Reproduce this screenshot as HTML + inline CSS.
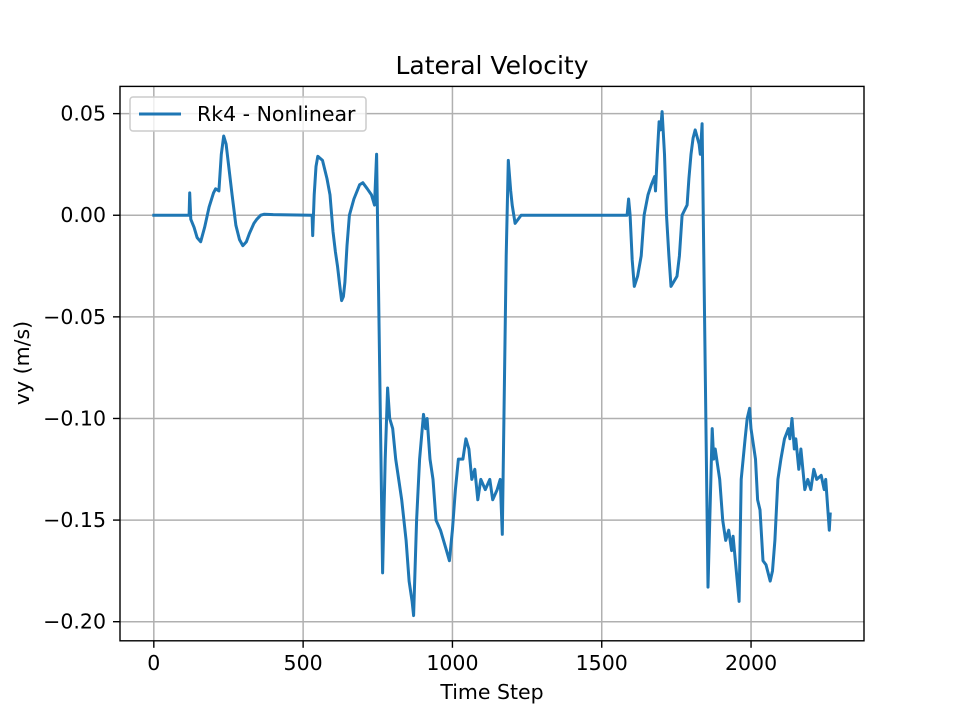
<!DOCTYPE html>
<html><head><meta charset="utf-8"><style>
body{margin:0;background:#fff}
svg text{font-family:"DejaVu Sans","Liberation Sans",sans-serif;fill:#000}
</style></head><body>
<svg id="chart" width="960" height="720" xmlns="http://www.w3.org/2000/svg">
<rect width="960" height="720" fill="#fff"/>
<g id="grid"></g>
<path id="line" fill="none" stroke="#1f77b4" stroke-width="3" stroke-linejoin="round" stroke-linecap="square"/>
<rect x="120" y="86.4" width="744" height="554.4" fill="none" stroke="#000" stroke-width="1.4"/>
<g id="ticks"></g>
<text x="492" y="74" font-size="25" text-anchor="middle">Lateral Velocity</text>
<text x="492" y="699" font-size="20.5" text-anchor="middle">Time Step</text>
<text x="29" y="363" font-size="20.5" text-anchor="middle" transform="rotate(-90 29 363)">vy (m/s)</text>
<g>
<rect x="130" y="97" width="236" height="34" rx="3" fill="#fff" fill-opacity="0.8" stroke="#ccc" stroke-width="1.5"/>
<line x1="139" y1="114" x2="181" y2="114" stroke="#1f77b4" stroke-width="3"/>
<text x="197" y="121" font-size="20.5">Rk4 - Nonlinear</text>
</g>
</svg>
<script>
const xTicks=[0,500,1000,1500,2000];
const yTicks=[0.05,0.00,-0.05,-0.10,-0.15,-0.20];
const yTickLabels=["0.05","0.00","\u22120.05","\u22120.10","\u22120.15","\u22120.20"];
const timeSteps=[0,118,120,124,135,145,157,170,185,200,207,218,226,234,242,250,262,275,287,298,310,320,335,345,358,370,400,530,532,537,543,549,565,580,590,600,608,615,622,629,635,640,647,655,670,689,700,715,729,739,746,766,775,783,790,800,810,820,830,845,855,865,870,880,890,903,910,915,925,935,945,960,980,990,1000,1010,1020,1035,1045,1055,1065,1075,1085,1095,1110,1125,1135,1150,1160,1167,1180,1187,1195,1200,1210,1230,1585,1590,1595,1602,1609,1620,1632,1642,1655,1666,1677,1680,1686,1692,1697,1702,1710,1717,1725,1732,1752,1760,1769,1786,1792,1799,1806,1813,1826,1830,1836,1856,1870,1875,1880,1890,1895,1905,1915,1925,1935,1940,1960,1967,1980,1987,1995,2000,2008,2015,2022,2030,2040,2050,2064,2072,2080,2090,2100,2112,2125,2130,2137,2145,2150,2160,2167,2180,2190,2200,2210,2220,2235,2245,2250,2262,2265];
const vyValues=[0,0,0.011,-0.002,-0.006,-0.011,-0.013,-0.006,0.004,0.011,0.013,0.012,0.03,0.039,0.035,0.025,0.01,-0.005,-0.012,-0.015,-0.013,-0.009,-0.004,-0.002,0,0.0005,0.0003,0,-0.01,0.01,0.024,0.029,0.027,0.018,0.01,-0.008,-0.018,-0.025,-0.034,-0.042,-0.04,-0.033,-0.015,0,0.008,0.015,0.016,0.013,0.01,0.005,0.03,-0.176,-0.12,-0.085,-0.1,-0.105,-0.12,-0.13,-0.14,-0.16,-0.18,-0.19,-0.197,-0.15,-0.12,-0.098,-0.105,-0.1,-0.12,-0.13,-0.15,-0.155,-0.165,-0.17,-0.155,-0.135,-0.12,-0.12,-0.11,-0.115,-0.13,-0.125,-0.14,-0.13,-0.135,-0.13,-0.14,-0.135,-0.13,-0.157,-0.02,0.027,0.012,0.005,-0.004,0,0,0.008,0,-0.022,-0.035,-0.03,-0.02,0,0.01,0.015,0.019,0.012,0.03,0.046,0.042,0.051,0.03,0,-0.02,-0.035,-0.03,-0.02,0,0.005,0.018,0.03,0.038,0.042,0.035,0.03,0.045,-0.183,-0.105,-0.12,-0.115,-0.125,-0.13,-0.15,-0.16,-0.155,-0.165,-0.158,-0.19,-0.13,-0.11,-0.1,-0.095,-0.105,-0.113,-0.12,-0.14,-0.145,-0.17,-0.172,-0.18,-0.175,-0.16,-0.13,-0.12,-0.11,-0.105,-0.11,-0.1,-0.115,-0.11,-0.125,-0.115,-0.135,-0.13,-0.135,-0.125,-0.13,-0.128,-0.135,-0.13,-0.155,-0.147];
const L=120,R=864,T=86.4,B=640.8;
const xMin=-113.25,xMax=2378.25,yMin=-0.2094,yMax=0.0634;
const sx=v=>L+(v-xMin)/(xMax-xMin)*(R-L);
const sy=v=>B-(v-yMin)/(yMax-yMin)*(B-T);
const NS="http://www.w3.org/2000/svg";
const grid=document.getElementById('grid'),ticks=document.getElementById('ticks');
function mk(tag,attrs,parent){const e=document.createElementNS(NS,tag);for(const k in attrs)e.setAttribute(k,attrs[k]);parent.appendChild(e);return e;}
xTicks.forEach(t=>{
  const x=sx(t);
  const g=mk('line',{x1:x,x2:x,y1:T,y2:B,stroke:'#b0b0b0','stroke-width':1.5},grid);
  
  
  mk('line',{x1:x,x2:x,y1:B,y2:B+7,stroke:'#000','stroke-width':1.4},ticks);
  const tx=mk('text',{x:x,y:B+29,'font-size':20.5,'text-anchor':'middle'},ticks);
  tx.textContent=t;
  
  
});
yTicks.forEach((t,i)=>{
  const y=sy(t);
  const g=mk('line',{x1:L,x2:R,y1:y,y2:y,stroke:'#b0b0b0','stroke-width':1.5},grid);
  
  
  mk('line',{x1:L-7,x2:L,y1:y,y2:y,stroke:'#000','stroke-width':1.4},ticks);
  const tx=mk('text',{x:L-14,y:y+7,'font-size':20.5,'text-anchor':'end'},ticks);
  tx.textContent=yTickLabels[i];
  
  
});
document.getElementById('line').setAttribute('d',timeSteps.map((t,i)=>(i?'L':'M')+sx(t).toFixed(1)+','+sy(vyValues[i]).toFixed(1)).join(''));
</script>
</body></html>
